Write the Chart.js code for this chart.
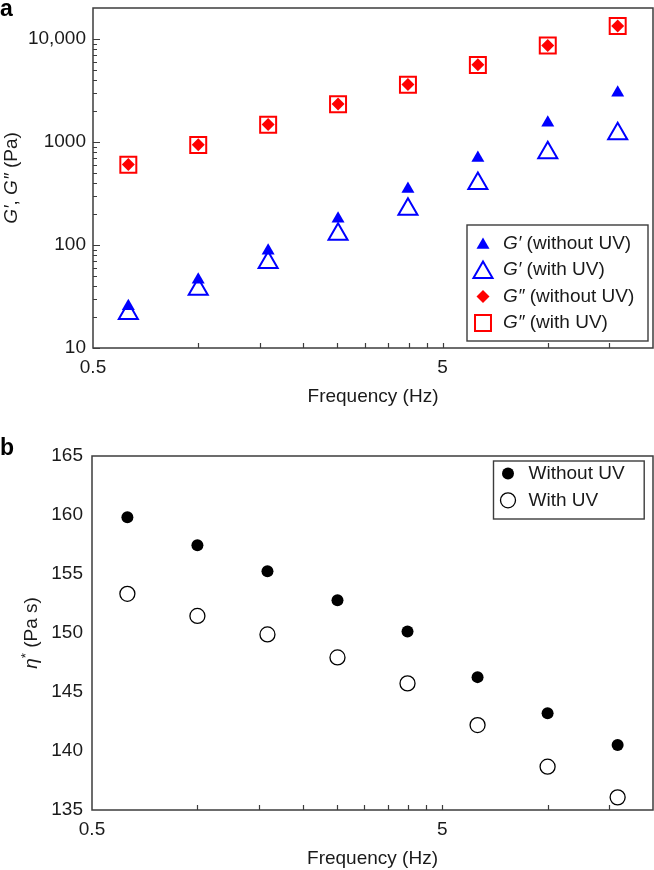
<!DOCTYPE html>
<html><head><meta charset="utf-8">
<script src="https://cdn.jsdelivr.net/npm/chart.js@4.4.0/dist/chart.umd.min.js"></script>
<style>
html,body{margin:0;padding:0;background:#fff;}
#wrap{position:relative;width:654px;height:870px;overflow:hidden;}
canvas{position:absolute;left:0;}
</style></head><body>
<div id="wrap">
<canvas id="cA" width="654" height="420" style="top:0;width:654px;height:420px"></canvas>
<canvas id="cB" width="654" height="450" style="top:420px;width:654px;height:450px"></canvas>
</div>
<script>
// ---------- data ----------
const frequency = [0.631, 1.0, 1.585, 2.512, 3.981, 6.31, 10.0, 15.85];
const gPrimeWithoutUV = [25.4, 45.9, 87.9, 180, 350, 700, 1535, 3000];
const gPrimeWithUV = [21.6, 37.2, 67.5, 127, 222, 396, 788, 1204];
const gDoublePrimeWithoutUV = [605, 940, 1480, 2335, 3610, 5620, 8650, 13380];
const gDoublePrimeWithUV = [602, 937, 1472, 2327, 3596, 5598, 8630, 13340];
const etaWithoutUV = [159.8, 157.44, 155.24, 152.78, 150.13, 146.26, 143.19, 140.5];
const etaWithUV = [153.32, 151.45, 149.88, 147.93, 145.73, 142.2, 138.67, 136.07];

const xTickLabels = [0.5, 5];
const xMinorTicks = [1, 1.5, 2, 2.5, 3, 3.5, 4, 4.5, 5, 10, 15];
const yTickLabelsA = [10, 100, 1000, 10000];
const yMinorTicksA = [20,30,40,50,60,70,80,90,200,300,400,500,600,700,800,900,2000,3000,4000,5000,6000,7000,8000,9000];
const yTickLabelsB = [135, 140, 145, 150, 155, 160, 165];

// ---------- style ----------
const FONT = '"Liberation Sans", Arial, Helvetica, sans-serif';
const TXT = '#1a1a1a';
const AXIS = '#3c3c3c';
const BLUE = '#0000ff';
const RED = '#ff0000';

function pts(ys){ return frequency.map((f,i)=>({x:f, y:ys[i]})); }

function marker(ctx, style, x, y, r, fill, stroke, lw){
  ctx.save();
  ctx.beginPath();
  if (style === 'triangle'){
    let rad = 0;
    ctx.moveTo(x + Math.sin(rad)*r, y - Math.cos(rad)*r);
    rad += 2*Math.PI/3; ctx.lineTo(x + Math.sin(rad)*r, y - Math.cos(rad)*r);
    rad += 2*Math.PI/3; ctx.lineTo(x + Math.sin(rad)*r, y - Math.cos(rad)*r);
    ctx.closePath();
  } else if (style === 'rect'){
    const s = Math.SQRT1_2*r; ctx.rect(x-s, y-s, 2*s, 2*s);
  } else if (style === 'rectRot'){
    ctx.moveTo(x-r, y); ctx.lineTo(x, y-r); ctx.lineTo(x+r, y); ctx.lineTo(x, y+r); ctx.closePath();
  } else {
    ctx.arc(x, y, r, 0, Math.PI*2);
  }
  if (fill){ ctx.fillStyle = fill; ctx.fill(); }
  if (stroke && lw){ ctx.strokeStyle = stroke; ctx.lineWidth = lw; ctx.stroke(); }
  ctx.restore();
}

// parts: [{t, it, sup}]
function richWidth(ctx, parts, size){
  let w = 0;
  for (const p of parts){
    const s = p.sup ? size*0.7 : size;
    ctx.font = (p.it ? 'italic ' : '') + s + 'px ' + FONT;
    w += ctx.measureText(p.t).width;
  }
  return w;
}
function drawRich(ctx, parts, x, y, size, color){
  ctx.save();
  ctx.fillStyle = color; ctx.textBaseline = 'middle'; ctx.textAlign = 'left';
  let cx = x;
  for (const p of parts){
    const s = p.sup ? size*0.7 : size;
    ctx.font = (p.it ? 'italic ' : '') + s + 'px ' + FONT;
    ctx.fillText(p.t, cx, p.sup ? y - size*0.3 : y);
    cx += ctx.measureText(p.t).width;
  }
  ctx.restore();
}

function boxAndTicks(chart, xTicks, yTicks, yMinor, xLen, yMajLen, yMinLen){
  const ctx = chart.ctx, a = chart.chartArea;
  const xs = chart.scales.x, ys = chart.scales.y;
  ctx.save();
  ctx.strokeStyle = AXIS; ctx.lineWidth = 1.5;
  ctx.strokeRect(a.left, a.top, a.right - a.left, a.bottom - a.top);
  ctx.lineWidth = 1.2;
  ctx.beginPath();
  for (const v of xTicks){
    const px = Math.round(xs.getPixelForValue(v)) + 0.5;
    ctx.moveTo(px, a.bottom); ctx.lineTo(px, a.bottom - xLen);
  }
  for (const v of yTicks){
    const py = Math.round(ys.getPixelForValue(v)) + 0.5;
    ctx.moveTo(a.left, py); ctx.lineTo(a.left + yMajLen, py);
  }
  for (const v of yMinor){
    const py = Math.round(ys.getPixelForValue(v)) + 0.5;
    ctx.moveTo(a.left, py); ctx.lineTo(a.left + yMinLen, py);
  }
  ctx.stroke();
  ctx.restore();
}

function vTitle(ctx, parts, cx, cy, size){
  ctx.save();
  ctx.translate(cx, cy); ctx.rotate(-Math.PI/2);
  const w = richWidth(ctx, parts, size);
  drawRich(ctx, parts, -w/2, 0, size, TXT);
  ctx.restore();
}

function panelLetter(ctx, t, x, y){
  ctx.save();
  ctx.font = 'bold 23px ' + FONT; ctx.fillStyle = '#000';
  ctx.textBaseline = 'alphabetic'; ctx.textAlign = 'left';
  ctx.fillText(t, x, y);
  ctx.restore();
}

function xTitle(chart){
  const ctx = chart.ctx, a = chart.chartArea;
  ctx.save();
  ctx.font = '19px ' + FONT; ctx.fillStyle = TXT;
  ctx.textAlign = 'center'; ctx.textBaseline = 'middle';
  ctx.fillText('Frequency (Hz)', (a.left + a.right)/2, a.bottom + 49);
  ctx.restore();
}

function logX(){
  return {
    type: 'logarithmic', min: 0.5, max: 20, bounds: 'data',
    afterBuildTicks: s => { s.ticks = xTickLabels.map(v => ({value: v})); },
    ticks: { callback: v => String(v), font: {family: FONT, size: 19}, color: TXT, autoSkip: false, maxRotation: 0, padding: 8 },
    grid: { display: false, drawTicks: false }, border: { display: false },
  };
}

// ---------- Chart A ----------
const pluginA = {
  id: 'decorA',
  afterDraw(chart){
    const ctx = chart.ctx, a = chart.chartArea;
    boxAndTicks(chart, xMinorTicks, yTickLabelsA, yMinorTicksA, 5, 7, 4);
    panelLetter(ctx, 'a', 0, 16);
    xTitle(chart);
    vTitle(ctx, [{t:'G′', it:true},{t:', '},{t:'G″', it:true},{t:' (Pa)'}], 11.5, (a.top + a.bottom)/2, 19);
    // legend
    const L = a.right - 186, T = a.bottom - 123, W = 181, H = 116;
    ctx.save(); ctx.strokeStyle = AXIS; ctx.lineWidth = 1.4; ctx.strokeRect(L, T, W, H); ctx.restore();
    const sx = L + 16, tx = L + 36;
    const rows = [T + 18.5, T + 45, T + 71.5, T + 98];
    marker(ctx, 'triangle', sx, rows[0] + 1.5, 7.5, BLUE, null, 0);
    marker(ctx, 'triangle', sx, rows[1] + 2.5, 11, null, BLUE, 2);
    marker(ctx, 'rectRot', sx, rows[2], 6.5, RED, null, 0);
    marker(ctx, 'rect', sx, rows[3], 11.3, null, RED, 2);
    drawRich(ctx, [{t:'G′', it:true},{t:' (without UV)'}], tx, rows[0], 19, TXT);
    drawRich(ctx, [{t:'G′', it:true},{t:' (with UV)'}], tx, rows[1], 19, TXT);
    drawRich(ctx, [{t:'G″', it:true},{t:' (without UV)'}], tx, rows[2], 19, TXT);
    drawRich(ctx, [{t:'G″', it:true},{t:' (with UV)'}], tx, rows[3], 19, TXT);
  }
};

new Chart(document.getElementById('cA'), {
  type: 'scatter',
  data: { datasets: [
    { label: 'G″ (with UV)', data: pts(gDoublePrimeWithUV), pointStyle: 'rect', pointRadius: 11.3, borderColor: RED, backgroundColor: 'rgba(0,0,0,0)', borderWidth: 2 },
    { label: 'G″ (without UV)', data: pts(gDoublePrimeWithoutUV), pointStyle: 'rectRot', pointRadius: 6.5, borderColor: RED, backgroundColor: RED, borderWidth: 0 },
    { label: 'G′ (with UV)', data: pts(gPrimeWithUV), pointStyle: 'triangle', pointRadius: 11, borderColor: BLUE, backgroundColor: 'rgba(0,0,0,0)', borderWidth: 2 },
    { label: 'G′ (without UV)', data: pts(gPrimeWithoutUV), pointStyle: 'triangle', pointRadius: 7.5, borderColor: BLUE, backgroundColor: BLUE, borderWidth: 0 },
  ]},
  options: {
    responsive: false, animation: false, devicePixelRatio: 1,
    layout: { autoPadding: false, padding: { top: 8, right: 1, left: 0, bottom: 0 } },
    plugins: { legend: { display: false }, tooltip: { enabled: false } },
    scales: {
      x: Object.assign(logX(), { afterFit: s => { s.height = 72; s.paddingLeft = 0; s.paddingRight = 0; } }),
      y: {
        type: 'logarithmic', min: 10, max: 20000, bounds: 'data',
        afterBuildTicks: s => { s.ticks = yTickLabelsA.map(v => ({value: v})); },
        afterFit: s => { s.width = 93; s.paddingTop = 0; s.paddingBottom = 0; },
        ticks: { callback: v => v >= 10000 ? v.toLocaleString('en-US') : String(v), font: {family: FONT, size: 19}, color: TXT, autoSkip: false, padding: 7 },
        grid: { display: false, drawTicks: false }, border: { display: false },
      }
    }
  },
  plugins: [pluginA]
});

// ---------- Chart B ----------
const pluginB = {
  id: 'decorB',
  afterDraw(chart){
    const ctx = chart.ctx, a = chart.chartArea;
    boxAndTicks(chart, xMinorTicks, [], [], 5, 0, 0);
    panelLetter(ctx, 'b', 0, 35);
    xTitle(chart);
    vTitle(ctx, [{t:'η', it:true},{t:'*', sup:true},{t:' (Pa s)'}], 32, (a.top + a.bottom)/2, 19);
    const L = a.right - 159.5, T = a.top + 5, W = 150.7, H = 58;
    ctx.save(); ctx.strokeStyle = AXIS; ctx.lineWidth = 1.4; ctx.strokeRect(L, T, W, H); ctx.restore();
    const sx = L + 14.5, tx = L + 35;
    marker(ctx, 'circle', sx, T + 12.6, 6, '#000', null, 0);
    marker(ctx, 'circle', sx, T + 39.3, 7.5, '#fff', '#000', 1.3);
    drawRich(ctx, [{t:'Without UV'}], tx, T + 12.6, 19, TXT);
    drawRich(ctx, [{t:'With UV'}], tx, T + 39.3, 19, TXT);
  }
};

new Chart(document.getElementById('cB'), {
  type: 'scatter',
  data: { datasets: [
    { label: 'With UV', data: pts(etaWithUV), pointStyle: 'circle', pointRadius: 7.5, borderColor: '#000', backgroundColor: '#fff', borderWidth: 1.3 },
    { label: 'Without UV', data: pts(etaWithoutUV), pointStyle: 'circle', pointRadius: 6, borderColor: '#000', backgroundColor: '#000', borderWidth: 0 },
  ]},
  options: {
    responsive: false, animation: false, devicePixelRatio: 1,
    layout: { autoPadding: false, padding: { top: 36, right: 1, left: 0, bottom: 0 } },
    plugins: { legend: { display: false }, tooltip: { enabled: false } },
    scales: {
      x: Object.assign(logX(), { afterFit: s => { s.height = 60; s.paddingLeft = 0; s.paddingRight = 0; } }),
      y: {
        type: 'linear', min: 135, max: 165,
        afterBuildTicks: s => { s.ticks = yTickLabelsB.map(v => ({value: v})); },
        afterFit: s => { s.width = 92; s.paddingTop = 0; s.paddingBottom = 0; },
        ticks: { font: {family: FONT, size: 19}, color: TXT, autoSkip: false, padding: 9 },
        grid: { display: false, drawTicks: false }, border: { display: false },
      }
    }
  },
  plugins: [pluginB]
});
</script>
</body></html>
